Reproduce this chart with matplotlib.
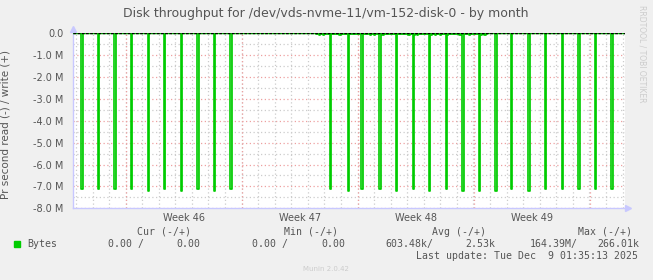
import matplotlib
matplotlib.use("Agg")
import matplotlib.pyplot as plt
import numpy as np
from matplotlib.patches import Rectangle

# time axis in days from the left edge of the graph (33 day munin "month" view)
span_days = 33.33
sample_h = 2.0

# read spikes (M bytes/s, negative = read), start day of each 2h sample
spike_days = [0.48, 1.50, 2.48, 3.50, 4.52, 5.50, 6.52, 7.49, 8.51, 9.48,
              15.52, 16.55, 17.45, 18.48, 19.50, 20.47, 21.50, 22.46, 23.49,
              24.46, 25.48, 26.45, 27.48, 28.50, 29.47, 30.50, 31.46, 32.49]
spike_depth = [-7.13, -7.13, -7.13, -7.13, -7.2, -7.13, -7.2, -7.13, -7.2, -7.13,
               -7.13, -7.2, -7.13, -7.13, -7.2, -7.13, -7.2, -7.13, -7.2,
               -7.2, -7.2, -7.13, -7.2, -7.13, -7.13, -7.13, -7.13, -7.13]

# small background read activity in the middle of the period
busy_start, busy_end = 14.6, 25.0
busy_level = -0.05
dip_days = [14.86, 15.10, 16.12, 17.93, 18.18, 18.66, 20.29, 20.59, 20.75,
            21.62, 21.80, 22.16, 22.58, 23.31, 23.91, 24.58, 24.82]
dip_level = -0.1

yticks = [0, -1, -2, -3, -4, -5, -6, -7, -8]
ytick_labels = ["0.0", "-1.0 M", "-2.0 M", "-3.0 M", "-4.0 M",
                "-5.0 M", "-6.0 M", "-7.0 M", "-8.0 M"]
week_starts = [3.2, 10.2, 17.2, 24.2, 31.2]
week_labels = ["Week 46", "Week 47", "Week 48", "Week 49"]
day_lines = [0.18 + d for d in range(34)]

# build the 2h step series from the values above
n = int(round(span_days * 24 / sample_h)) + 1
t = np.arange(n) * sample_h / 24
read = np.zeros(n)
read[(t >= busy_start) & (t < busy_end)] = busy_level
for d in dip_days:
    read[np.argmin(np.abs(t - d))] = dip_level
for d, v in zip(spike_days, spike_depth):
    read[np.argmin(np.abs(t - d))] = v
write = np.zeros(n)

BG = "#f0f0f0"
AXC = "#c8c8ff"
TXT = "#555555"

fig = plt.figure(figsize=(6.53, 2.8), dpi=100, facecolor=BG)
ax = fig.add_axes([73 / 653, 71.7 / 280, 552 / 653, 175.1 / 280])
ax.set_facecolor("white")

for y in np.arange(-8, 0.01, 0.5):
    major = float(y).is_integer()
    ax.axhline(y, color="#eea0a0" if major else "#cccccc", lw=0.9,
               ls=(0, (1, 2)), zorder=1)
for d in day_lines:
    if d < span_days:
        ax.axvline(d, color="#cccccc", lw=0.9, ls=(0, (1, 2)), zorder=1)
for d in week_starts:
    ax.axvline(d, color="#eea0a0", lw=0.9, ls=(0, (1, 2)), zorder=1)

ax.fill_between(t, read, 0, step="post", color="#90e890", lw=0, zorder=2)
ax.step(t, read, where="post", color="#00cc00", lw=1.2, zorder=3)
ax.step(t, write, where="post", color="#00cc00", lw=1.0, zorder=3)
ax.axhline(0, color="black", lw=1.0, ls=(0, (2, 1)), zorder=4)

ax.set_xlim(0, span_days)
ax.set_ylim(-8, 0)
ax.set_yticks(yticks)
ax.set_yticklabels(ytick_labels)
ax.set_xticks([(a + b) / 2 for a, b in zip(week_starts[:-1], week_starts[1:])])
ax.set_xticklabels(week_labels)
ax.tick_params(axis="both", labelsize=7, colors=TXT, length=0)
ax.tick_params(axis="y", pad=7)
ax.tick_params(axis="x", pad=3.5)

for s in ["top", "right"]:
    ax.spines[s].set_visible(False)
for s in ["left", "bottom"]:
    ax.spines[s].set_color(AXC)
    ax.spines[s].set_linewidth(1.0)
ax.plot([1.005], [0], marker=">", ms=5, color=AXC, transform=ax.transAxes,
        clip_on=False)
ax.plot([0], [1.025], marker="^", ms=5, color=AXC, transform=ax.transAxes,
        clip_on=False)

ax.set_ylabel("Pr second read (-) / write (+)", fontsize=7.5, color=TXT,
              labelpad=6)
ax.yaxis.set_label_coords(-(73 - 10) / 552, 0.48)

fig.text(326 / 653, 1 - 13 / 280,
         "Disk throughput for /dev/vds-nvme-11/vm-152-disk-0 - by month",
         ha="center", va="center", fontsize=9, color=TXT)
fig.text(642 / 653, 1 - 54 / 280, "RRDTOOL / TOBI OETIKER", rotation=270,
         ha="center", va="center", fontsize=5.5, color="#cccccc")


def px(x, y, s, ha="left", **kw):
    fig.text(x / 653, 1 - y / 280, s, ha=ha, va="center",
             family="DejaVu Sans Mono", fontsize=7.1, color=TXT, **kw)


px(191, 232, "Cur (-/+)", ha="right")
px(338, 232, "Min (-/+)", ha="right")
px(486, 232, "Avg (-/+)", ha="right")
px(632, 232, "Max (-/+)", ha="right")

fig.patches.append(Rectangle((14 / 653, 1 - 247 / 280), 6 / 653, 6 / 280,
                             transform=fig.transFigure, color="#00cc00"))
px(27, 244, "Bytes")
px(108, 244, "0.00 /")
px(176, 244, "0.00")
px(252, 244, "0.00 /")
px(321, 244, "0.00")
px(385, 244, "603.48k/")
px(465, 244, "2.53k")
px(530, 244, "164.39M/")
px(597, 244, "266.01k")
px(638, 256, "Last update: Tue Dec  9 01:35:13 2025", ha="right")

fig.text(326 / 653, 1 - 269 / 280, "Munin 2.0.42", ha="center", va="center",
         fontsize=5, color="#cccccc")

fig.savefig("out.png", dpi=100, facecolor=BG)
